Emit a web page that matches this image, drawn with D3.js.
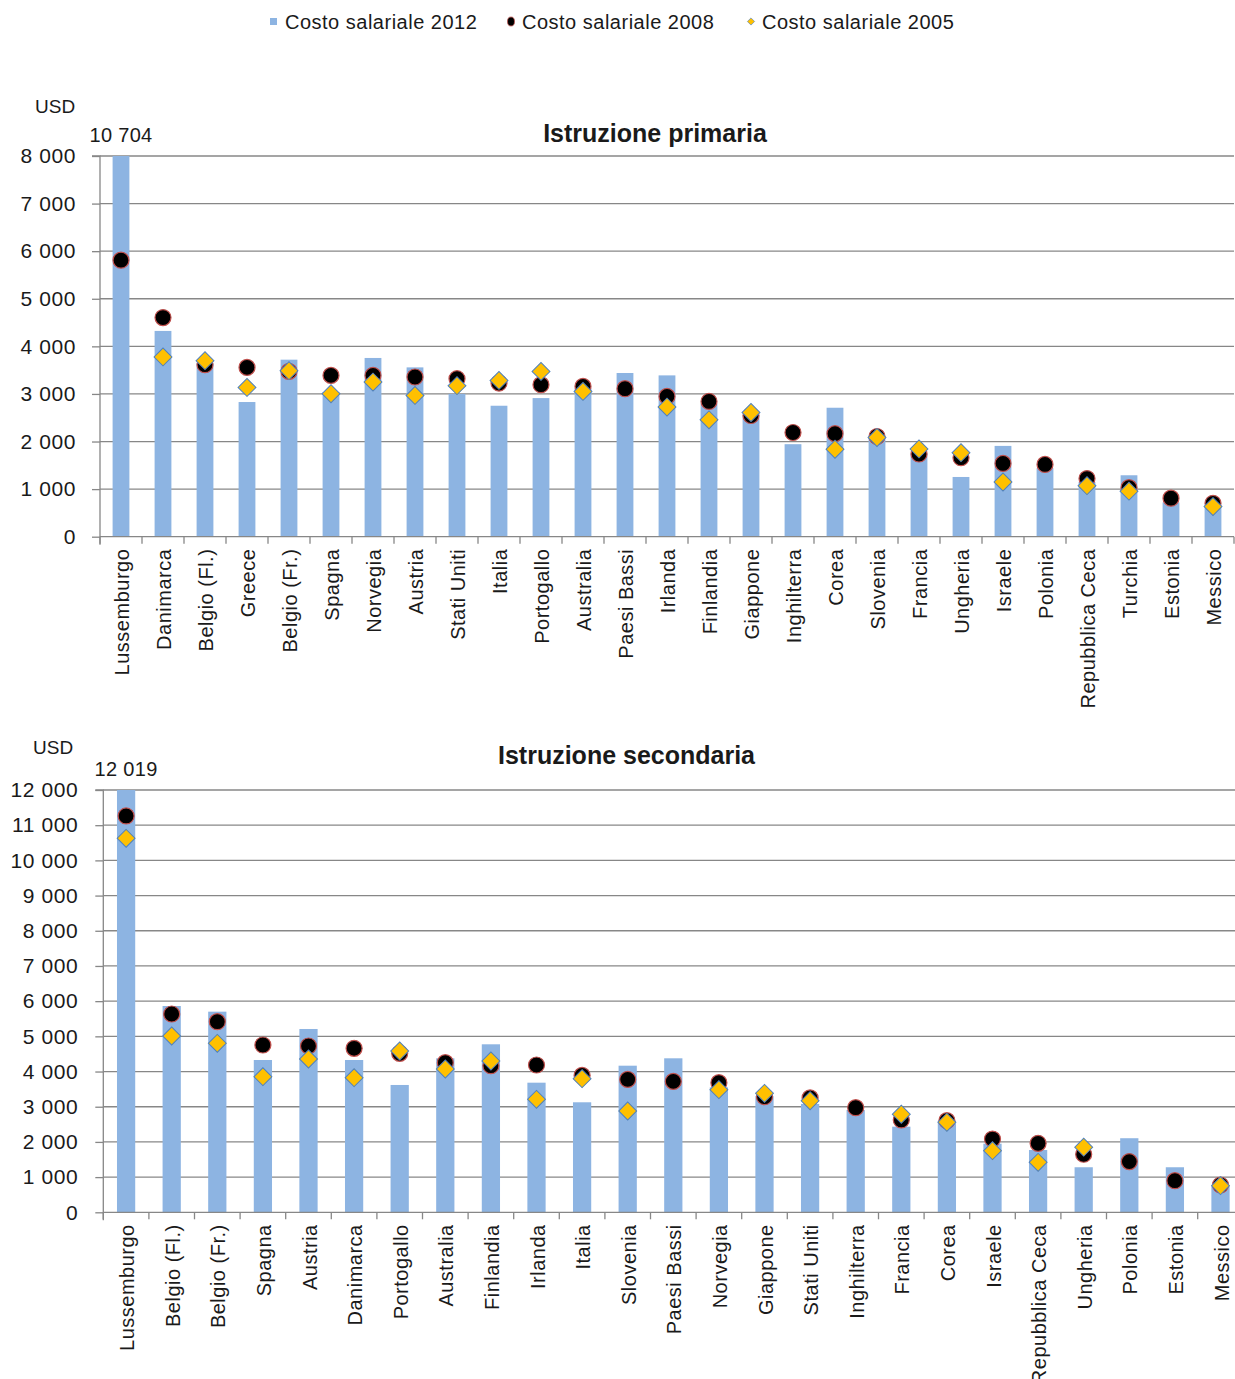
<!DOCTYPE html>
<html>
<head>
<meta charset="utf-8">
<script src="https://cdn.jsdelivr.net/npm/d3@7"></script>
<style>
  html, body { margin: 0; padding: 0; background: #fff; }
  svg { display: block; font-family: "Liberation Sans", Arial, sans-serif; }
  .tick text { font-size: 21px; fill: #1a1a1a; letter-spacing: 0.6px; }
</style>
</head>
<body>
<svg id="chart" width="1235" height="1379"></svg>
<script>
// Costo salariale degli insegnanti per studente (USD)
const seriesNames = ["Costo salariale 2012", "Costo salariale 2008", "Costo salariale 2005"];

// Istruzione primaria
const primaryCountries = ["Lussemburgo", "Danimarca", "Belgio (Fl.)", "Greece", "Belgio (Fr.)", "Spagna",
  "Norvegia", "Austria", "Stati Uniti", "Italia", "Portogallo", "Australia", "Paesi Bassi", "Irlanda",
  "Finlandia", "Giappone", "Inghilterra", "Corea", "Slovenia", "Francia", "Ungheria", "Israele",
  "Polonia", "Repubblica Ceca", "Turchia", "Estonia", "Messico"];
const primary2012 = [10704, 4324, 3650, 2830, 3720, 3040, 3756, 3558, 3000, 2752, 2913, 3120, 3440, 3390,
  2800, 2550, 1944, 2710, 2080, 1750, 1255, 1908, 1440, 1150, 1291, 720, 650];
const primary2008 = [5811, 4604, 3615, 3558, 3474, 3390, 3390, 3356, 3320, 3229, 3194, 3158, 3110, 2948,
  2842, 2547, 2190, 2164, 2106, 1738, 1660, 1540, 1519, 1221, 1030, 809, 702];
const primary2005 = [null, 3777, 3699, 3137, 3488, 3004, 3250, 2968, 3173, 3284, 3474, 3053, null, 2724,
  2457, 2610, null, 1838, 2085, 1845, 1766, 1149, null, 1072, 957, null, 632];
const primaryTicks = [0, 1000, 2000, 3000, 4000, 5000, 6000, 7000, 8000];

// Istruzione secondaria
const secondaryCountries = ["Lussemburgo", "Belgio (Fl.)", "Belgio (Fr.)", "Spagna", "Austria", "Danimarca",
  "Portogallo", "Australia", "Finlandia", "Irlanda", "Italia", "Slovenia", "Paesi Bassi", "Norvegia",
  "Giappone", "Stati Uniti", "Inghilterra", "Francia", "Corea", "Israele", "Repubblica Ceca", "Ungheria",
  "Polonia", "Estonia", "Messico"];
const secondary2012 = [12019, 5862, 5701, 4328, 5209, 4328, 3618, 4376, 4774, 3683, 3126, 4166, 4376, 3550,
  3300, 3080, 2908, 2433, 2600, 1950, 1770, 1280, 2105, 1280, 780];
const secondary2008 = [11262, 5635, 5417, 4754, 4726, 4660, 4518, 4251, 4166, 4185, 3890, 3776, 3720, 3683,
  3285, 3250, 2973, 2624, 2604, 2082, 1960, 1650, 1440, 898, 776];
const secondary2005 = [10628, 5010, 4802, 3854, 4356, 3825, 4584, 4072, 4300, 3210, 3796, 2878, null, 3485,
  3380, 3170, null, 2786, 2557, 1750, 1420, 1850, null, null, 756];
const secondaryTicks = [0, 1000, 2000, 3000, 4000, 5000, 6000, 7000, 8000, 9000, 10000, 11000, 12000];

const BAR = "#8DB4E2", GRID = "#878787", TEXT = "#1a1a1a";
const DOT_FILL = "#000000", DOT_STROKE = "#C0504D";
const DIA_FILL = "#FFC000", DIA_STROKE = "#4F81BD";

const fmt = v => d3.format(",")(v).replace(/,/g, " ");
const svg = d3.select("#chart");

// Legend
const legend = svg.append("g").attr("class", "legend");
const legendItems = [
  { name: seriesNames[0], mark: 273.5, text: 285 },
  { name: seriesNames[1], mark: 511, text: 522 },
  { name: seriesNames[2], mark: 751, text: 762 }
];
legend.append("rect").attr("x", legendItems[0].mark - 3.5).attr("y", 18).attr("width", 7).attr("height", 7)
  .attr("fill", BAR);
legend.append("ellipse").attr("cx", legendItems[1].mark).attr("cy", 21.5).attr("rx", 3.5).attr("ry", 4.5)
  .attr("fill", DOT_FILL).attr("stroke", DOT_STROKE).attr("stroke-width", 0.8);
legend.append("path").attr("transform", `translate(${legendItems[2].mark},21.5) rotate(45)`)
  .attr("d", d3.symbol(d3.symbolSquare, 26)()).attr("fill", DIA_FILL).attr("stroke", DIA_STROKE).attr("stroke-width", 0.6);
legend.selectAll("text").data(legendItems).join("text")
  .attr("x", d => d.text).attr("y", 29)
  .attr("font-size", 20).attr("letter-spacing", 0.5).attr("fill", TEXT)
  .text(d => d.name);

function drawPanel(cfg) {
  const g = svg.append("g");
  const n = cfg.countries.length;
  const x = d3.scaleBand().domain(cfg.countries).range([cfg.left, cfg.left + n * cfg.step])
    .paddingInner(0.6).paddingOuter(0.3);
  const yMax = d3.max(cfg.ticks);
  const y = d3.scaleLinear().domain([0, yMax]).range([cfg.bottom, cfg.top]);
  const bw = x.bandwidth();
  const step = x.step();
  const cx = d => x(d) + bw / 2;

  // unit and title
  g.append("text").attr("x", cfg.usdX).attr("y", cfg.usdY).attr("font-size", 19).attr("fill", TEXT)
    .text("USD");
  g.append("text").attr("x", cfg.titleX).attr("y", cfg.titleY).attr("text-anchor", "middle")
    .attr("font-size", 25).attr("font-weight", "bold").attr("fill", TEXT).text(cfg.title);

  // gridlines
  g.append("g").selectAll("line").data(cfg.ticks.filter(t => t > 0)).join("line")
    .attr("x1", cfg.left).attr("x2", cfg.left + n * step)
    .attr("y1", d => y(d)).attr("y2", d => y(d))
    .attr("stroke", GRID).attr("stroke-width", 1.3);

  // bars, clipped at the top of the value axis
  const clipId = "clip-" + cfg.id;
  g.append("clipPath").attr("id", clipId).append("rect")
    .attr("x", cfg.left).attr("y", cfg.top).attr("width", n * step).attr("height", cfg.bottom - cfg.top);
  const rows = cfg.countries.map((c, i) => ({ c, v12: cfg.v2012[i], v08: cfg.v2008[i], v05: cfg.v2005[i] }));
  g.append("g").attr("clip-path", `url(#${clipId})`).selectAll("rect").data(rows).join("rect")
    .attr("x", d => x(d.c)).attr("width", bw)
    .attr("y", d => y(Math.min(d.v12, yMax))).attr("height", d => y(0) - y(Math.min(d.v12, yMax)))
    .attr("fill", BAR);

  // value label for bars beyond the axis maximum
  g.append("g").selectAll("text").data(rows.filter(d => d.v12 > yMax)).join("text")
    .attr("x", d => cx(d.c)).attr("y", cfg.top - 14).attr("text-anchor", "middle")
    .attr("font-size", 20).attr("letter-spacing", 0.3).attr("fill", TEXT).text(d => fmt(d.v12));

  // value axis
  const yAxis = d3.axisLeft(y).tickValues(cfg.ticks).tickSize(8).tickPadding(cfg.tickPad).tickFormat(fmt);
  const ya = g.append("g").attr("transform", `translate(${cfg.left},0)`).call(yAxis);
  ya.select(".domain").attr("stroke", GRID).attr("stroke-width", 1.3).attr("d", `M-8,${cfg.top}H0V${cfg.bottom + 8}`);
  ya.selectAll(".tick line").attr("stroke", GRID).attr("stroke-width", 1.3);

  // category axis
  const xa = g.append("g");
  xa.append("line").attr("x1", cfg.left).attr("x2", cfg.left + n * step)
    .attr("y1", cfg.bottom).attr("y2", cfg.bottom).attr("stroke", GRID).attr("stroke-width", 1.3);
  xa.selectAll("line.tk").data(d3.range(n + 1)).join("line").attr("class", "tk")
    .attr("x1", i => cfg.left + i * step).attr("x2", i => cfg.left + i * step)
    .attr("y1", cfg.bottom).attr("y2", cfg.bottom + 7).attr("stroke", GRID).attr("stroke-width", 1.3);
  xa.selectAll("text").data(cfg.countries).join("text")
    .attr("transform", d => `translate(${cx(d) + 1},${cfg.bottom + 12}) rotate(-90)`)
    .attr("text-anchor", "end").attr("dominant-baseline", "central")
    .attr("font-size", 20).attr("letter-spacing", 0.5).attr("fill", TEXT).text(d => d);

  // 2008 series
  g.append("g").selectAll("circle").data(rows.filter(d => d.v08 != null)).join("circle")
    .attr("cx", d => cx(d.c)).attr("cy", d => y(d.v08)).attr("r", 8)
    .attr("fill", DOT_FILL).attr("stroke", DOT_STROKE).attr("stroke-width", 1.2);

  // 2005 series
  const diamond = d3.symbol(d3.symbolSquare, 160)();
  g.append("g").selectAll("path").data(rows.filter(d => d.v05 != null)).join("path")
    .attr("transform", d => `translate(${cx(d.c)},${y(d.v05)}) rotate(45)`)
    .attr("d", diamond).attr("fill", DIA_FILL).attr("stroke", DIA_STROKE).attr("stroke-width", 1);
}

drawPanel({
  id: "primaria", title: "Istruzione primaria",
  countries: primaryCountries, v2012: primary2012, v2008: primary2008, v2005: primary2005,
  ticks: primaryTicks, left: 100, step: 42, top: 156, bottom: 536.7, tickPad: 16,
  usdX: 35, usdY: 112.5, titleX: 655, titleY: 141.5
});

drawPanel({
  id: "secondaria", title: "Istruzione secondaria",
  countries: secondaryCountries, v2012: secondary2012, v2008: secondary2008, v2005: secondary2005,
  ticks: secondaryTicks, left: 103.3, step: 45.6, top: 790, bottom: 1212.3, tickPad: 17,
  usdX: 33, usdY: 754, titleX: 626.5, titleY: 763.5
});
</script>
</body>
</html>
